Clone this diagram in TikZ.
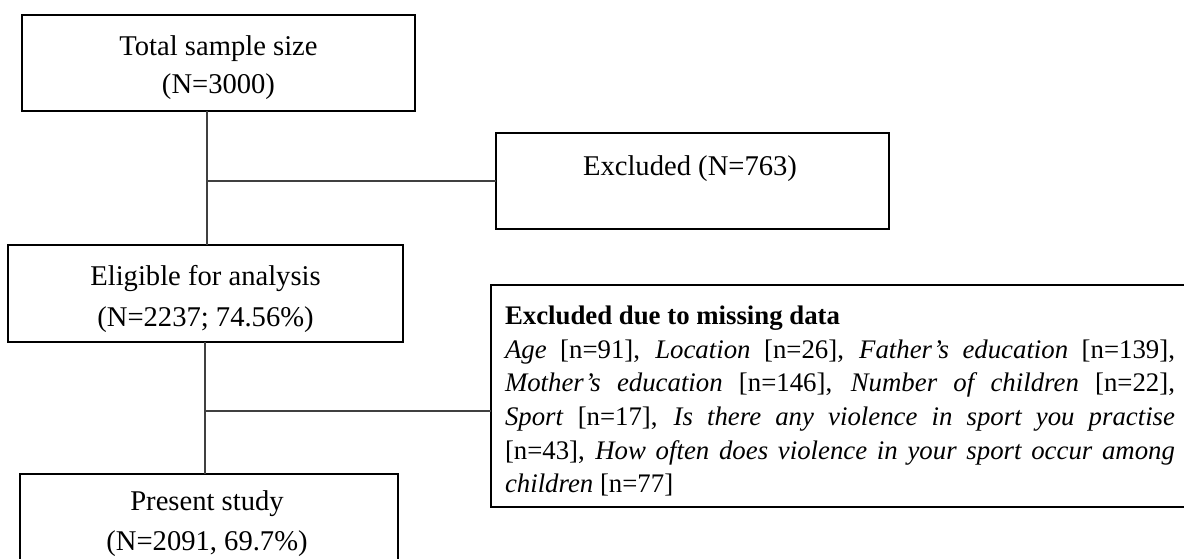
\documentclass[tikz,border=0pt]{standalone}
\usepackage{fontspec}
\setmainfont{Liberation Serif}
\begin{document}
\begin{tikzpicture}[x=0.5pt,y=-0.5pt,
  box/.style={draw=black, line width=0.9pt, inner sep=0pt, outer sep=0pt},
  txt/.style={inner sep=0pt, outer sep=0pt, font=\fontsize{14.3}{16}\selectfont, text=black},
  link/.style={draw=black!75, line width=0.9pt}]
\useasboundingbox (0,0) rectangle (1184,558);
% boxes
\node[box, minimum width=196.5pt, minimum height=48pt] (total) at (218.5,63) {};
\node[txt, anchor=base] (totalA) at (218.5,55) {Total sample size};
\node[txt, anchor=base] (totalB) at (218.5,93) {(N=3000)};

\node[box, minimum width=196.5pt, minimum height=48pt] (excl) at (692.5,181) {};
\node[txt, anchor=base] (exclA) at (690,175) {Excluded (N=763)};

\node[box, minimum width=197.5pt, minimum height=48.5pt] (elig) at (205.5,293.5) {};
\node[txt, anchor=base] (eligA) at (205.5,285) {Eligible for analysis};
\node[txt, anchor=base] (eligB) at (205.5,326) {(N=2237; 74.56\%)};

\node[box, minimum width=189pt, minimum height=73pt] (pres) at (209,547) {};
\node[txt, anchor=base] (presA) at (207,510) {Present study};
\node[txt, anchor=base] (presB) at (207,550) {(N=2091, 69.7\%)};

\node[box, minimum width=354.5pt, minimum height=111pt] (miss) at (845.5,396) {};
\node[txt, anchor=north west, text width=335pt, align=justify, font=\fontsize{13.4}{16.8}\selectfont] (missT) at (505,306)
{\tolerance=10000\hyphenpenalty=10000\noindent\textbf{Excluded due to missing data}\par
\noindent\textit{Age} [n=91], \textit{Location} [n=26], \textit{Father’s education} [n=139],\linebreak{}
\textit{Mother’s education} [n=146], \textit{Number of children} [n=22],\linebreak{}
\textit{Sport} [n=17], \textit{Is there any violence in sport you practise}\linebreak{}
[n=43], \textit{How often does violence in your sport occur among}\linebreak{}
\textit{children} [n=77]\par};

% connectors
\coordinate (s1) at (207,0);
\coordinate (s2) at (205,0);
\coordinate (b2) at (205,411);
\draw[link] (total.south -| s1) -- (elig.north -| s1);
\draw[link] (excl.west -| s1) -- (excl.west);
\draw[link] (elig.south -| s2) -- (pres.north -| s2);
\draw[link] (b2) -- (b2 -| miss.west);
\end{tikzpicture}
\end{document}
